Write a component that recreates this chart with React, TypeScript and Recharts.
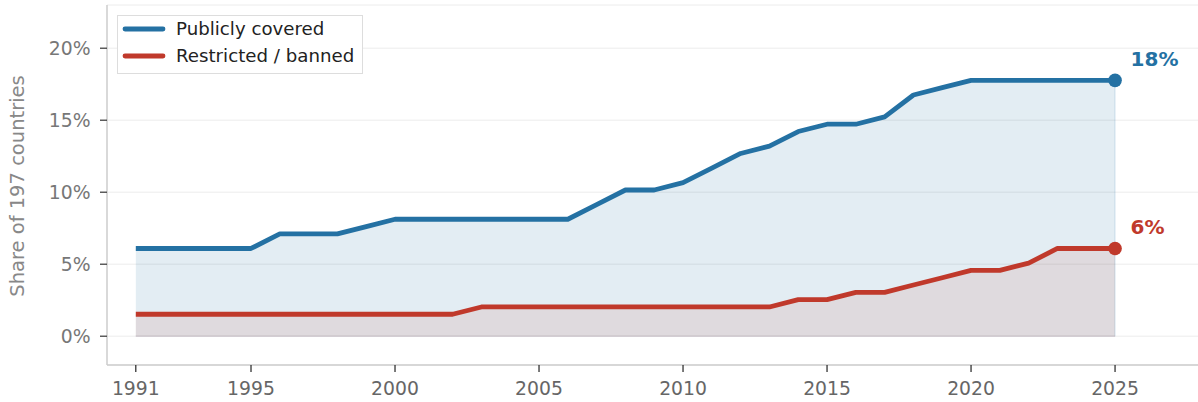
import React from 'react';
import {
  ComposedChart,
  Area,
  Line,
  XAxis,
  YAxis,
  CartesianGrid,
  ReferenceLine,
} from 'recharts';

const TOTAL_COUNTRIES = 197;

const years = [
  1991, 1992, 1993, 1994, 1995, 1996, 1997, 1998, 1999, 2000,
  2001, 2002, 2003, 2004, 2005, 2006, 2007, 2008, 2009, 2010,
  2011, 2012, 2013, 2014, 2015, 2016, 2017, 2018, 2019, 2020,
  2021, 2022, 2023, 2024, 2025,
];

// number of countries (out of 197)
const publiclyCovered = [
  12, 12, 12, 12, 12, 14, 14, 14, 15, 16,
  16, 16, 16, 16, 16, 16, 18, 20, 20, 21,
  23, 25, 26, 28, 29, 29, 30, 33, 34, 35,
  35, 35, 35, 35, 35,
];

const restrictedBanned = [
  3, 3, 3, 3, 3, 3, 3, 3, 3, 3,
  3, 3, 4, 4, 4, 4, 4, 4, 4, 4,
  4, 4, 4, 5, 5, 6, 6, 7, 8, 9,
  9, 10, 12, 12, 12,
];

const xTicks = [1991, 1995, 2000, 2005, 2010, 2015, 2020, 2025];
const yTicks = [0, 5, 10, 15, 20];

const seriesNames = ['Publicly covered', 'Restricted / banned'];
const BLUE = '#2471A3';
const RED = '#C0392B';
const FONT = 'DejaVu Sans, sans-serif';

const data = years.map((year, i) => ({
  year,
  covered: (publiclyCovered[i] / TOTAL_COUNTRIES) * 100,
  restricted: (restrictedBanned[i] / TOTAL_COUNTRIES) * 100,
}));

const LAST = data.length - 1;
const lastYear = years[LAST];

const makeDot = (color: string) => (props: any) => {
  if (props.index !== LAST) return <g key={`d-${props.index}`} />;
  return <circle key={`d-${props.index}`} cx={props.cx} cy={props.cy} r={6.8} fill={color} />;
};

const makeLabel = (color: string) => (props: any) => {
  if (props.index !== LAST) return <g key={`l-${props.index}`} />;
  return (
    <text
      key={`l-${props.index}`}
      x={props.x + 15.5}
      y={props.y - 14.5}
      fill={color}
      fontFamily={FONT}
      fontWeight="bold"
      fontSize={20}
    >
      {`${Math.round(props.value)}%`}
    </text>
  );
};

const LegendBox = () => (
  <div
    style={{
      boxSizing: 'border-box',
      position: 'absolute',
      left: 116.5,
      top: 15,
      width: 246,
      height: 58.5,
      border: '1.5px solid #dddddd',
      background: '#ffffff',
      fontFamily: FONT,
      fontSize: 18.2,
      color: '#222',
    }}
  >
    {seriesNames.map((name, i) => (
      <div
        key={name}
        style={{ position: 'absolute', left: 0, top: 13.3 + i * 26.7 - 12, height: 24, width: 244 }}
      >
        <svg width={50} height={24} style={{ position: 'absolute', left: 0, top: 0 }}>
          <line x1={7} y1={12} x2={45} y2={12} stroke={i === 0 ? BLUE : RED} strokeWidth={4.8} strokeLinecap="round" />
        </svg>
        <span style={{ position: 'absolute', left: 58.5, top: 0, lineHeight: '24px', whiteSpace: 'nowrap' }}>{name}</span>
      </div>
    ))}
  </div>
);

export default function App() {
  return (
    <div style={{ position: 'absolute', left: 0, top: 0, width: 1198, height: 402, background: '#fff' }}>
      <ComposedChart
        width={1198}
        height={402}
        data={data}
        margin={{ top: 5, right: 0, bottom: 0, left: 0 }}
      >
        <CartesianGrid horizontal vertical={false} stroke="#ececec" strokeWidth={1} />
        <XAxis
          dataKey="year"
          type="number"
          domain={[1990, 2027.88]}
          ticks={xTicks}
          height={37}
          axisLine={{ stroke: '#cccccc', strokeWidth: 1.5 }}
          tickLine={{ stroke: '#222', strokeWidth: 1.2 }}
          tickSize={7}
          tickMargin={9.5}
          tick={{ fill: '#666', fontSize: 18.8, fontFamily: FONT }}
        />
        <YAxis
          type="number"
          domain={[-2, 23]}
          ticks={yTicks}
          tickFormatter={(v: number) => `${v}%`}
          width={107}
          axisLine={{ stroke: '#cccccc', strokeWidth: 1.5 }}
          tickLine={{ stroke: '#333', strokeWidth: 1.2 }}
          tickSize={7}
          tickMargin={9.5}
          tick={{ fill: '#777', fontSize: 18.8, fontFamily: FONT }}
          label={{
            content: () => (
              <text
                x={17.5}
                y={186}
                transform="rotate(-90 17.5 186)"
                textAnchor="middle"
                dominantBaseline="central"
                fill="#888"
                fontSize={19.5}
                fontFamily={FONT}
              >
                Share of 197 countries
              </text>
            ),
          }}
        />
        <Area
          dataKey="covered"
          type="linear"
          baseValue={0}
          fill={BLUE}
          fillOpacity={0.13}
          stroke="none"
          legendType="none"
          isAnimationActive={false}
        />
        <Area
          dataKey="restricted"
          type="linear"
          baseValue={0}
          fill={RED}
          fillOpacity={0.1}
          stroke="none"
          legendType="none"
          isAnimationActive={false}
        />
        <ReferenceLine
          segment={[{ x: lastYear, y: 0 }, { x: lastYear, y: data[LAST].covered }]}
          stroke={BLUE}
          strokeOpacity={0.12}
          strokeWidth={1.5}
        />
        <ReferenceLine
          segment={[{ x: years[0], y: 0 }, { x: lastYear, y: 0 }]}
          stroke="#b8aeb8"
          strokeOpacity={0.45}
          strokeWidth={1.5}
        />
        <Line
          dataKey="covered"
          name={seriesNames[0]}
          type="linear"
          stroke={BLUE}
          strokeWidth={4.8}
          strokeLinejoin="round"
          dot={makeDot(BLUE)}
          activeDot={false}
          label={makeLabel(BLUE)}
          isAnimationActive={false}
        />
        <Line
          dataKey="restricted"
          name={seriesNames[1]}
          type="linear"
          stroke={RED}
          strokeWidth={4.8}
          strokeLinejoin="round"
          dot={makeDot(RED)}
          activeDot={false}
          label={makeLabel(RED)}
          isAnimationActive={false}
        />
      </ComposedChart>
      <LegendBox />
    </div>
  );
}
